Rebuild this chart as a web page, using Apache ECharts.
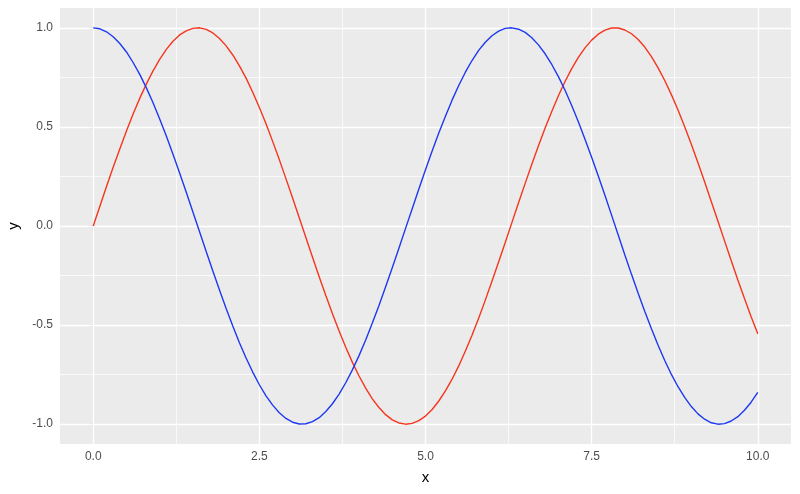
<!DOCTYPE html>
<html><head><meta charset="utf-8">
<script src="https://cdn.jsdelivr.net/npm/echarts@6/dist/echarts.min.js"></script>
<style>html,body{margin:0;padding:0;background:#fff}#c{width:800px;height:494px}</style>
</head><body><div id="c"></div>
<script>
var xs = [0.0,0.1,0.2,0.3,0.4,0.5,0.6,0.7,0.8,0.9,1.0,1.1,1.2,1.3,1.4,1.5,1.6,1.7,1.8,1.9,2.0,2.1,2.2,2.3,2.4,2.5,2.6,2.7,2.8,2.9,3.0,3.1,3.2,3.3,3.4,3.5,3.6,3.7,3.8,3.9,4.0,4.1,4.2,4.3,4.4,4.5,4.6,4.7,4.8,4.9,5.0,5.1,5.2,5.3,5.4,5.5,5.6,5.7,5.8,5.9,6.0,6.1,6.2,6.3,6.4,6.5,6.6,6.7,6.8,6.9,7.0,7.1,7.2,7.3,7.4,7.5,7.6,7.7,7.8,7.9,8.0,8.1,8.2,8.3,8.4,8.5,8.6,8.7,8.8,8.9,9.0,9.1,9.2,9.3,9.4,9.5,9.6,9.7,9.8,9.9,10.0];
var sinY = [0.000,0.100,0.199,0.296,0.389,0.479,0.565,0.644,0.717,0.783,0.841,0.891,0.932,0.964,0.985,0.997,1.000,0.992,0.974,0.946,0.909,0.863,0.808,0.746,0.675,0.598,0.516,0.427,0.335,0.239,0.141,0.042,-0.058,-0.158,-0.256,-0.351,-0.443,-0.530,-0.612,-0.688,-0.757,-0.818,-0.872,-0.916,-0.952,-0.978,-0.994,-1.000,-0.996,-0.982,-0.959,-0.926,-0.883,-0.832,-0.773,-0.706,-0.631,-0.551,-0.465,-0.374,-0.279,-0.182,-0.083,0.017,0.117,0.215,0.312,0.405,0.494,0.578,0.657,0.729,0.794,0.851,0.899,0.938,0.968,0.988,0.999,0.999,0.989,0.970,0.941,0.903,0.855,0.798,0.734,0.663,0.585,0.501,0.412,0.319,0.223,0.124,0.025,-0.075,-0.174,-0.272,-0.366,-0.458,-0.544];
var cosY = [1.000,0.995,0.980,0.955,0.921,0.878,0.825,0.765,0.697,0.622,0.540,0.454,0.362,0.267,0.170,0.071,-0.029,-0.129,-0.227,-0.323,-0.416,-0.505,-0.589,-0.666,-0.737,-0.801,-0.857,-0.904,-0.942,-0.971,-0.990,-0.999,-0.998,-0.987,-0.967,-0.936,-0.897,-0.848,-0.791,-0.726,-0.654,-0.575,-0.490,-0.401,-0.307,-0.211,-0.112,-0.012,0.087,0.187,0.284,0.378,0.469,0.554,0.635,0.709,0.776,0.835,0.886,0.927,0.960,0.983,0.997,1.000,0.993,0.977,0.950,0.914,0.869,0.815,0.754,0.685,0.608,0.526,0.438,0.347,0.252,0.155,0.055,-0.045,-0.146,-0.244,-0.339,-0.431,-0.519,-0.602,-0.679,-0.749,-0.811,-0.865,-0.911,-0.948,-0.975,-0.993,-1.000,-0.997,-0.984,-0.962,-0.930,-0.889,-0.839];
var xTicks = [0, 2.5, 5, 7.5, 10];
var xMinor = [1.25, 3.75, 6.25, 8.75];
var yTicks = [-1, -0.5, 0, 0.5, 1];
var yMinor = [-0.75, -0.25, 0.25, 0.75];

function pairs(a, b){ var r=[]; for(var i=0;i<a.length;i++) r.push([a[i], b[i]]); return r; }
var gridLines = [];
xTicks.forEach(function(v){ gridLines.push({xAxis:v, lineStyle:{color:'#fff', width:1.3, type:'solid'}}); });
xMinor.forEach(function(v){ gridLines.push({xAxis:v, lineStyle:{color:'#fff', width:0.7, type:'solid'}}); });
yTicks.forEach(function(v){ gridLines.push({yAxis:v, lineStyle:{color:'#fff', width:1.3, type:'solid'}}); });
yMinor.forEach(function(v){ gridLines.push({yAxis:v, lineStyle:{color:'#fff', width:0.7, type:'solid'}}); });

var chart = echarts.init(document.getElementById('c'), null, {renderer:'canvas'});
var font = 'Liberation Sans, Arial, sans-serif';
chart.setOption({
  animation: false,
  textStyle: {fontFamily: font},
  grid: {left: 60, right: 9, top: 8, bottom: 50, show: true, backgroundColor: '#EBEBEB', borderWidth: 0,
         containLabel: false, outerBoundsMode: 'none'},
  xAxis: {
    type: 'value', min: -0.5, max: 10.5,
    name: 'x', nameLocation: 'middle', nameGap: 26,
    nameTextStyle: {color: '#000', fontSize: 15, fontFamily: font},
    axisLine: {show: false},
    axisTick: {show: true, length: 4, lineStyle: {color: '#333', width: 1.1}, customValues: xTicks},
    axisLabel: {color: '#4D4D4D', fontSize: 12, margin: 7, customValues: xTicks, formatter: function(v){ return v.toFixed(1); }},
    splitLine: {show: false}
  },
  yAxis: {
    type: 'value', min: -1.1, max: 1.1,
    name: 'y', nameLocation: 'middle', nameGap: 38, nameRotate: 90,
    nameTextStyle: {color: '#000', fontSize: 15, fontFamily: font},
    axisLine: {show: false},
    axisTick: {show: true, length: 4, lineStyle: {color: '#333', width: 1.1}, customValues: yTicks},
    axisLabel: {color: '#4D4D4D', fontSize: 12, margin: 7, customValues: yTicks, formatter: function(v){ return v.toFixed(1); }},
    splitLine: {show: false}
  },
  series: [
    {type: 'line', data: [], z: 1, silent: true,
     markLine: {silent: true, z: 1, symbol: ['none','none'], label: {show: false}, animation: false, data: gridLines}},
    {type: 'line', name: 'sin', data: pairs(xs, sinY), showSymbol: false, smooth: false, z: 10,
     lineStyle: {color: '#F5351E', width: 1.4}, itemStyle: {color: '#F5351E'}},
    {type: 'line', name: 'cos', data: pairs(xs, cosY), showSymbol: false, smooth: false, z: 10,
     lineStyle: {color: '#1C39F2', width: 1.4}, itemStyle: {color: '#1C39F2'}}
  ]
});
</script>
</body></html>
